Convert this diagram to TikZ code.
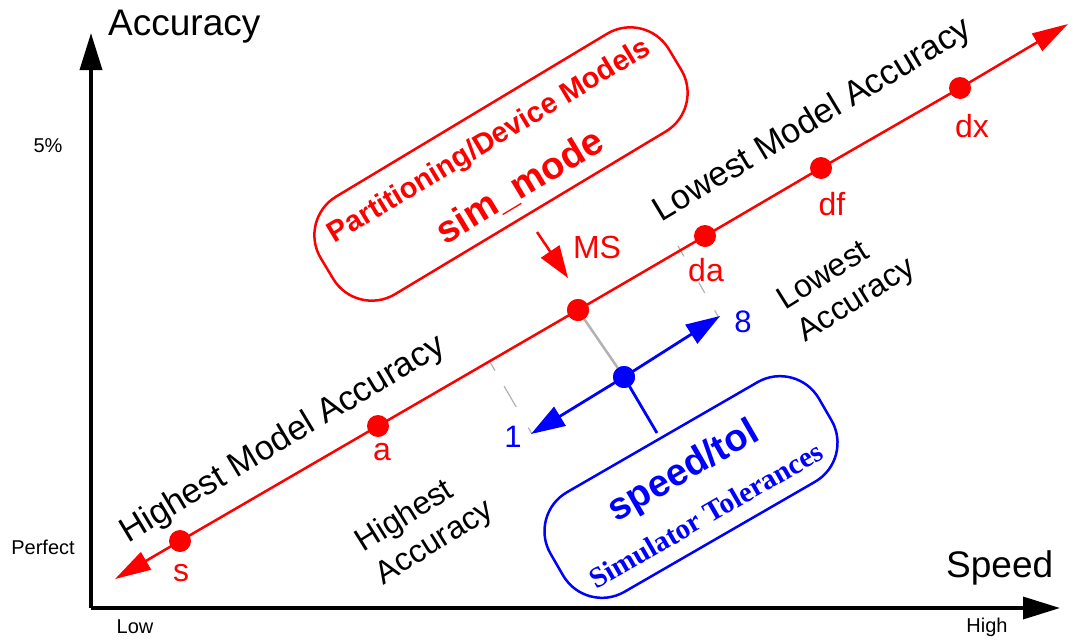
\documentclass[tikz,border=0pt]{standalone}
\usepackage{fontspec}
\setmainfont{Liberation Sans}
\newfontfamily\tmsfont{Liberation Serif}
\usetikzlibrary{arrows.meta}
\begin{document}
\begin{tikzpicture}[x=1pt,y=-1pt]
\tikzset{
 ax/.style={line width=3.5pt, -{Triangle[length=37pt,width=22pt]}},
 rline/.style={red, line width=2.5pt},
 bline/.style={blue, line width=2.8pt},
 rtip/.style={-{Triangle[length=36pt,width=20pt]}},
 btip/.style={-{Triangle[length=34pt,width=22pt]}},
 dotr/.style={circle, fill=red, inner sep=0pt, minimum size=22pt},
 dotb/.style={circle, fill=blue, inner sep=0pt, minimum size=22pt},
 rlab/.style={text=red, inner sep=0pt, font=\fontsize{32}{38}\selectfont},
 blab/.style={text=blue, inner sep=0pt, font=\fontsize{31}{36}\selectfont},
 big/.style={inner sep=0pt, font=\fontsize{34.5}{40}\selectfont},
 twoline/.style={inner sep=0pt, align=left, font=\fontsize{32}{38}\selectfont},
 small/.style={inner sep=0pt, font=\fontsize{20}{24}\selectfont},
 gtick/.style={black!30, line width=1.2pt},
 gline/.style={black!30, line width=2.5pt},
 rbox/.style={draw=red, line width=2.5pt, rounded corners=45pt, inner sep=0pt},
 bbox/.style={draw=blue, line width=2.5pt, rounded corners=45pt, inner sep=0pt}
}
\useasboundingbox (0,0) rectangle (1074,643);
% axes
\coordinate (o) at (91,608);
\coordinate (ytop) at (91,33);
\coordinate (xend) at (1060,608);
\draw[ax] (o) -- (ytop);
\draw[ax] (o) -- (xend);
\node[inner sep=0pt, anchor=base west, font=\fontsize{37}{44}\selectfont] (yl) at (108,35) {Accuracy};
\node[inner sep=0pt, anchor=base west, font=\fontsize{37}{44}\selectfont] (xl) at (946,577) {Speed};
\node[small] (five) at (48,146) {5\%};
\node[small] (perf) at (43,547) {Perfect};
\node[small] (low) at (135,627) {Low};
\node[small] (high) at (987,627) {High};
% red boxes
\node[rbox, minimum width=406pt, minimum height=114pt, rotate=31] (pbox) at (501,164) {};
\node[inner sep=0pt, text=red, rotate=31, font=\bfseries\fontsize{29}{34}\selectfont] (ptxt) at (490,142) {Partitioning/Device Models};
\node[inner sep=0pt, text=red, rotate=31, font=\bfseries\fontsize{38}{44}\selectfont] (simm) at (520,187) {sim\_mode};
\coordinate (pa) at (537,232);
\coordinate (patip) at (568,278);
\draw[rline, -{Triangle[length=32pt,width=22pt]}] (pa) -- (patip);
% gray helper lines
\coordinate (g1a) at (490,362);
\coordinate (g1b) at (532,434);
\coordinate (g2a) at (678,246);
\coordinate (g2b) at (719,318);
\draw[gtick, dash pattern=on 10pt off 18pt on 24pt off 24pt on 8pt] (g1a) -- (g1b);
\draw[gtick, dash pattern=on 12pt off 30pt on 12pt off 20pt on 9pt] (g2a) -- (g2b);
% red line
\coordinate (rl) at (115,579);
\coordinate (rr) at (1068,24);
\node[dotr] (s) at (180,541) {};
\node[dotr] (a) at (378,426) {};
\node[dotr] (ms) at (578,310) {};
\node[dotr] (da) at (705,236) {};
\node[dotr] (df) at (821,168) {};
\node[dotr] (dx) at (960,88) {};
\draw[rline, rtip] (s.center) -- (rl);
\draw[rline] (s.center) -- (a.center) -- (ms.center) -- (da.center) -- (df.center) -- (dx.center);
\draw[rline, rtip] (dx.center) -- (rr);
\node[rlab] (sl) at (181,573) {s};
\node[rlab] (al) at (382,452) {a};
\node[rlab] (msl) at (597,247) {MS};
\node[rlab] (dal) at (706,270) {da};
\node[rlab] (dfl) at (832,204) {df};
\node[rlab] (dxl) at (972,126) {dx};
% blue
\node[dotb] (bd) at (624,377) {};
\draw[gline] (ms.center) -- (bd.center);
\coordinate (onetip) at (531,434);
\coordinate (eighttip) at (720,316);
\draw[bline, btip] (bd.center) -- (onetip);
\draw[bline, btip] (bd.center) -- (eighttip);
\node[dotr] at (ms) {};
\node[dotb] at (bd) {};
\node[blab] (one) at (513,437) {1};
\node[blab] (eight) at (743,322) {8};
\node[bbox, minimum width=310pt, minimum height=115pt, rotate=30] (sbox) at (691,487) {};
\coordinate (bt) at (657,433);
\draw[bline] (bd.center) -- (bt);
\node[inner sep=0pt, text=blue, rotate=30, font=\bfseries\fontsize{38}{44}\selectfont] (spd) at (684,472) {speed/tol};
\node[inner sep=0pt, text=blue, rotate=30, font=\tmsfont\bfseries\fontsize{29}{34}\selectfont] (simt) at (706,515) {Simulator Tolerances};
% black labels
\node[big, rotate=31] (hma) at (283,440) {Highest Model Accuracy};
\node[big, rotate=31] (lma) at (813,121) {Lowest Model Accuracy};
\node[twoline, rotate=32] (ha) at (425,527) {Highest\\Accuracy};
\node[twoline, rotate=32] (la) at (847,285) {Lowest\\Accuracy};
\end{tikzpicture}
\end{document}
